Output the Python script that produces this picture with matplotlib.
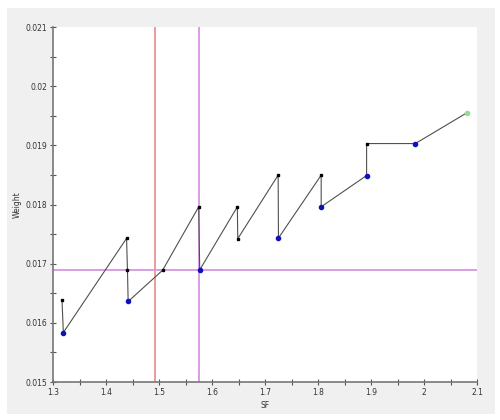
#! /usr/bin/env python3

import matplotlib
matplotlib.use("Agg")
import matplotlib.pyplot as plt
from matplotlib.patches import Rectangle
import numpy as np

# path of the SF / Weight trace, in drawing order
sf = [1.317, 1.3195, 1.4388, 1.4405, 1.4418, 1.5068, 1.5749, 1.5768, 1.6478,
      1.6486, 1.7248, 1.7254, 1.806, 1.806, 1.8917, 1.8917, 1.9837, 2.0815]
weight = [0.01638, 0.015836, 0.017428, 0.016889, 0.016361, 0.016889, 0.017961,
          0.016894, 0.017961, 0.017422, 0.018496, 0.017433, 0.018496, 0.017961,
          0.01849, 0.01903, 0.01903, 0.019553]
# point kind: k = black, b = blue, g = green (last)
kind = ["k", "b", "k", "k", "b", "k", "k", "b", "k",
        "k", "k", "b", "k", "b", "b", "k", "b", "g"]

sf_red = 1.493
sf_target = 1.576
weight_target = 0.016894

xticks = [1.3, 1.4, 1.5, 1.6, 1.7, 1.8, 1.9, 2.0, 2.1]
xticklabels = ["1.3", "1.4", "1.5", "1.6", "1.7", "1.8", "1.9", "2", "2.1"]
yticks = [0.015, 0.016, 0.017, 0.018, 0.019, 0.020, 0.021]
yticklabels = ["0.015", "0.016", "0.017", "0.018", "0.019", "0.02", "0.021"]

fig = plt.figure(figsize=(5, 4.2), dpi=100, facecolor="white")
fig.patches.append(Rectangle((7 / 500, 6 / 420), 488 / 500, 406 / 420,
                             transform=fig.transFigure, facecolor="#f0f0f0",
                             edgecolor="none", zorder=-10))
ax = fig.add_axes([53 / 500, 38 / 420, 424 / 500, 355 / 420])
ax.set_facecolor("white")

ax.axvline(sf_red, color="#e89494", lw=1.3, zorder=1)
ax.axvline(sf_target, color="#d896e2", lw=1.3, zorder=1)
ax.axhline(weight_target, color="#d896e2", lw=1.3, zorder=1)

ax.plot(sf, weight, "-", color="#505050", lw=0.8, zorder=2)
sf = np.array(sf)
weight = np.array(weight)
kind = np.array(kind)
m = kind == "k"
ax.plot(sf[m], weight[m], "s", color="black", ms=2, zorder=3)
m = kind == "b"
ax.plot(sf[m], weight[m], "o", color="#1010c0", ms=3, zorder=3)
m = kind == "g"
ax.plot(sf[m], weight[m], "o", color="#90e090", ms=3, zorder=3)

ax.set_xlim(1.3, 2.1)
ax.set_ylim(0.015, 0.021)
ax.set_xticks(xticks)
ax.set_xticklabels(xticklabels)
ax.set_yticks(yticks)
ax.set_yticklabels(yticklabels)
ax.set_xticks(np.arange(1.35, 2.1, 0.1), minor=True)
ax.set_yticks(np.arange(0.0155, 0.021, 0.001), minor=True)
ax.tick_params(which="both", direction="inout", length=4, width=0.8,
               color="#555555", labelsize=5.5, labelcolor="#333333", pad=2)

for s in ["top", "right"]:
    ax.spines[s].set_visible(False)
for s in ["left", "bottom"]:
    ax.spines[s].set_color("#777777")
    ax.spines[s].set_linewidth(1.2)

ax.set_xlabel("SF", fontsize=5.5, color="#333333", labelpad=3)
ax.set_ylabel("Weight", fontsize=5.5, color="#333333", labelpad=3)

plt.savefig("out.png", dpi=100)
